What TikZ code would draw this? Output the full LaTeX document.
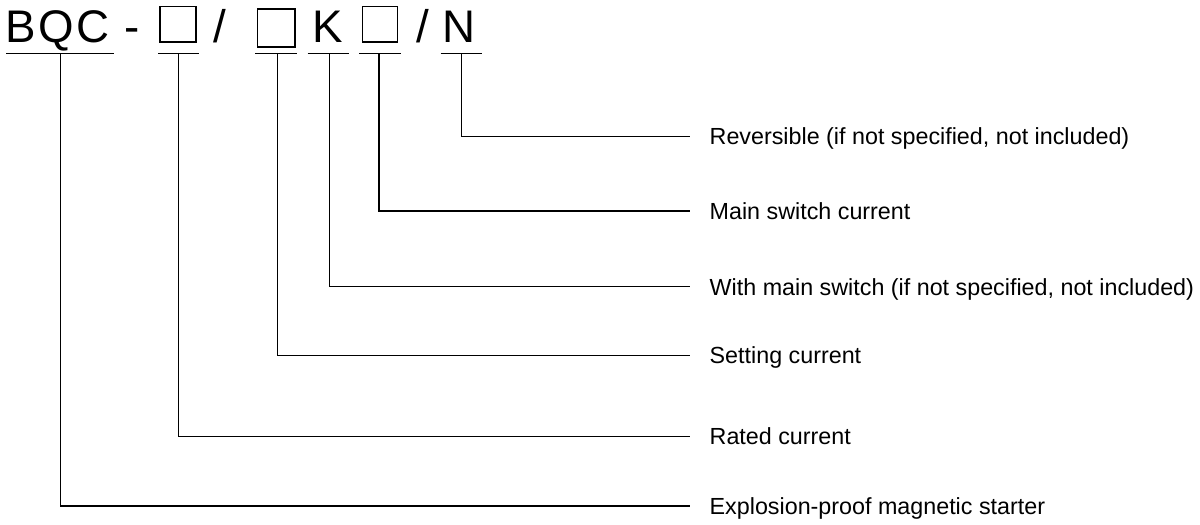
\documentclass[tikz,border=0pt]{standalone}
\usepackage{fontspec}
\setmainfont{Liberation Sans}
\begin{document}
\begin{tikzpicture}[x=1pt,y=-1pt,
  big/.style={font=\fontsize{45.7}{50}\selectfont, inner sep=0pt, anchor=base west},
  lab/.style={font=\fontsize{23.3}{26}\selectfont, inner xsep=19.5pt, inner ysep=0pt, text height=16.7pt, text depth=0pt, anchor=west},
  conn/.style={line width=1.4pt},
  uline/.style={line width=1.5pt},
  slot/.style={draw, line width=1.3pt, inner sep=0pt}]
\useasboundingbox (0,0) rectangle (1200,525);

% header characters
\node[big] (cB) at (4.9,42.7) {B};
\node[big] (cQ) at (37.8,42.7) {Q};
\node[big] (cC) at (76.7,42.7) {C};
\node[big] (dash) at (124.7,42.7) {-};
\node[slot, minimum width=36.1pt, minimum height=35.4pt] (box1) at (178,24.35) {};
\node[big] (sl1) at (213.5,42.7) {/};
\node[slot, minimum width=37.7pt, minimum height=38.1pt] (box2) at (276.2,28) {};
\node[big] (cK) at (312.3,42.7) {K};
\node[slot, minimum width=35.3pt, minimum height=35.4pt] (box3) at (380,24.35) {};
\node[big] (sl2) at (416,42.7) {/};
\node[big] (cN) at (442.5,42.7) {N};

% underlines
\coordinate (uBa) at (6,53.3);     \coordinate (uBb) at (113.5,53.3);
\coordinate (u1a) at (158.3,53.3); \coordinate (u1b) at (199.3,53.3);
\coordinate (u2a) at (255,53.3);   \coordinate (u2b) at (296.7,53.3);
\coordinate (uKa) at (307.7,53.3); \coordinate (uKb) at (349,53.3);
\coordinate (u3a) at (359,53.3);   \coordinate (u3b) at (400.7,53.3);
\coordinate (uNa) at (440.7,53.3); \coordinate (uNb) at (482.3,53.3);
\foreach \p in {B,1,2,K,3,N} \draw[uline] (u\p a) -- (u\p b);

% stems
\coordinate (sB) at (60.7,53.3);
\coordinate (s1) at (178.5,53.3);
\coordinate (s2) at (277.3,53.3);
\coordinate (sK) at (329.3,53.3);
\coordinate (s3) at (378.8,53.3);
\coordinate (sN) at (461.7,53.3);

% labels
\node[lab] (lN) at (690,136.5) {Reversible (if not specified, not included)};
\node[lab] (l3) at (690,211) {Main switch current};
\node[lab] (lK) at (690,286.7) {With main switch (if not specified, not included)};
\node[lab] (l2) at (690,355.5) {Setting current};
\node[lab] (l1) at (690,436.5) {Rated current};
\node[lab] (lB) at (690,506) {Explosion-proof magnetic starter};

% connectors
\foreach \p in {B,1,2,K,3,N} \draw[conn] (s\p) |- (l\p.west);
\end{tikzpicture}
\end{document}
